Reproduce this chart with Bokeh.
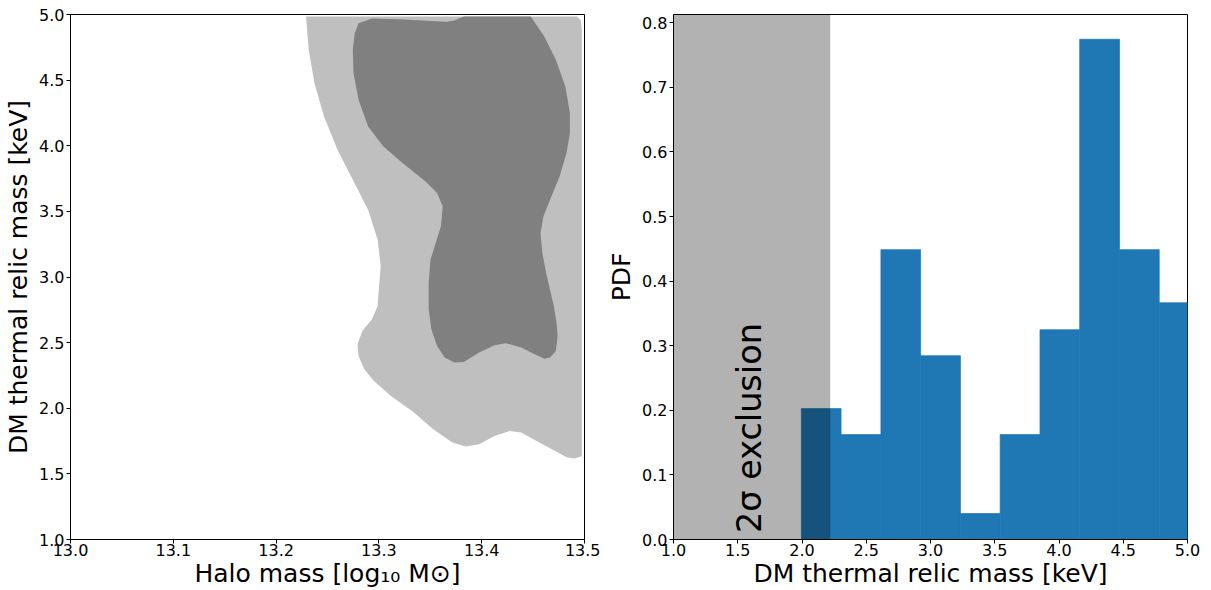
import numpy as np
from bokeh.plotting import figure
from bokeh.layouts import row
from bokeh.models import FixedTicker, PrintfTickFormatter, BoxAnnotation, Range1d, ColumnDataSource
from bokeh.core.properties import value
from bokeh.embed import file_html
from bokeh.resources import INLINE

# ---- Left panel: credible regions (halo mass vs DM thermal relic mass) ----
outer_x = [13.2291, 13.4925, 13.4963, 13.4974, 13.4974, 13.4907, 13.4832, 13.4683, 13.4534,
           13.4385, 13.4273, 13.4124, 13.3975, 13.3845, 13.3715, 13.3528, 13.3342, 13.3118,
           13.2951, 13.2858, 13.2802, 13.2791, 13.2839, 13.2932, 13.2988, 13.2999, 13.3018,
           13.2988, 13.2895, 13.2746, 13.2597, 13.2466, 13.2373, 13.2317]
outer_y = [4.985, 4.985, 4.959, 4.883, 1.637, 1.617, 1.624, 1.688, 1.751,
           1.815, 1.827, 1.789, 1.726, 1.708, 1.739, 1.840, 1.967, 2.094,
           2.208, 2.297, 2.398, 2.487, 2.589, 2.678, 2.779, 2.906, 3.081,
           3.284, 3.513, 3.741, 3.970, 4.223, 4.477, 4.731]

inner_x = [13.2802, 13.2932, 13.3193, 13.3417, 13.3659, 13.3733, 13.3826, 13.4478, 13.4609,
           13.4721, 13.4814, 13.4858, 13.4858, 13.4825, 13.4758, 13.4665, 13.4601, 13.4572,
           13.4590, 13.4627, 13.4672, 13.4702, 13.4728, 13.4739, 13.4721, 13.4665, 13.4609,
           13.4516, 13.4385, 13.4236, 13.4124, 13.3975, 13.3826, 13.3733, 13.3640, 13.3566,
           13.3510, 13.3484, 13.3484, 13.3502, 13.3603, 13.3621, 13.3566, 13.3454, 13.3230,
           13.3044, 13.2895, 13.2802, 13.2753, 13.2746, 13.2765]
inner_y = [4.934, 4.970, 4.964, 4.954, 4.944, 4.954, 4.985, 4.985, 4.832,
           4.655, 4.452, 4.249, 4.096, 3.944, 3.766, 3.589, 3.462, 3.335,
           3.183, 3.030, 2.878, 2.779, 2.652, 2.551, 2.437, 2.386, 2.378,
           2.411, 2.462, 2.495, 2.480, 2.424, 2.353, 2.348, 2.386, 2.475,
           2.602, 2.754, 2.954, 3.132, 3.386, 3.538, 3.640, 3.728, 3.868,
           3.995, 4.147, 4.350, 4.553, 4.731, 4.858]

left_xticks = [13.0, 13.1, 13.2, 13.3, 13.4, 13.5]
left_yticks = [1.0, 1.5, 2.0, 2.5, 3.0, 3.5, 4.0, 4.5, 5.0]

# ---- Right panel: histogram PDF ----
bin_edges = [1.995, 2.304, 2.614, 2.923, 3.233, 3.542, 3.852, 4.161, 4.471, 4.780, 5.090]
pdf_values = [0.2026, 0.1624, 0.4487, 0.2845, 0.0402, 0.1624, 0.3247, 0.7744, 0.4487, 0.3665]
exclusion_limit = 2.22
right_xticks = [1.0, 1.5, 2.0, 2.5, 3.0, 3.5, 4.0, 4.5, 5.0]
right_yticks = [0.0, 0.1, 0.2, 0.3, 0.4, 0.5, 0.6, 0.7, 0.8]

FONT = "DejaVu Sans"
H = 590


def style(p, xticks, yticks, xlabel, ylabel):
    p.xgrid.visible = False
    p.ygrid.visible = False
    p.outline_line_color = "black"
    p.outline_line_width = 1
    p.background_fill_color = "white"
    p.border_fill_color = "white"
    for ax, ticks in ((p.xaxis, xticks), (p.yaxis, yticks)):
        ax.ticker = FixedTicker(ticks=ticks)
        ax.formatter = PrintfTickFormatter(format="%.1f")
        ax.major_label_text_font = FONT
        ax.major_label_text_font_size = "16px"
        ax.major_label_text_color = "black"
        ax.axis_label_text_font = FONT
        ax.axis_label_text_font_size = "25px"
        ax.axis_label_text_font_style = "normal"
        ax.axis_label_text_color = "black"
        ax.axis_line_color = "black"
        ax.major_tick_line_color = "black"
        ax.major_tick_out = 4
        ax.major_tick_in = 0
        ax.minor_tick_line_color = None
        ax.major_label_standoff = 2
        ax.axis_label_standoff = 3
    p.xaxis.major_label_standoff = 0
    p.xaxis.axis_label_standoff = 0
    p.xaxis.axis_label = xlabel
    p.yaxis.axis_label = ylabel


p1 = figure(width=600, height=H, output_backend="svg", toolbar_location=None,
            x_range=Range1d(13.0, 13.5), y_range=Range1d(1.0, 5.0),
            min_border_left=70, min_border_right=16, min_border_top=14, min_border_bottom=46)
p1.patch(outer_x, outer_y, fill_color="#bfbfbf", line_color=None)
p1.patch(inner_x, inner_y, fill_color="#808080", line_color=None)
style(p1, left_xticks, left_yticks, "Halo mass [log₁₀ M⊙]", "DM thermal relic mass [keV]")

p2 = figure(width=610, height=H, output_backend="svg", toolbar_location=None,
            x_range=Range1d(1.0, 5.0), y_range=Range1d(0.0, 0.8127),
            min_border_left=73, min_border_right=23, min_border_top=14, min_border_bottom=46)
src = ColumnDataSource(dict(left=bin_edges[:-1], right=bin_edges[1:],
                            top=pdf_values, bottom=[0.0] * len(pdf_values)))
p2.quad(left="left", right="right", top="top", bottom="bottom", source=src,
        fill_color="#1f77b4", line_color="#1f77b4", line_width=0.7)
p2.add_layout(BoxAnnotation(left=1.0, right=exclusion_limit, fill_color="black",
                            fill_alpha=0.3, line_color=None, line_alpha=0))
p2.text(x=[1.59], y=[0.010], text=["2σ exclusion"], angle=np.pi / 2,
        text_font=value(FONT), text_font_size="33.5px", text_color="black",
        text_align="left", text_baseline="alphabetic")
style(p2, right_xticks, right_yticks, "DM thermal relic mass [keV]", "PDF")

layout = row(p1, p2)
open("out.html", "w").write(file_html(layout, INLINE))
